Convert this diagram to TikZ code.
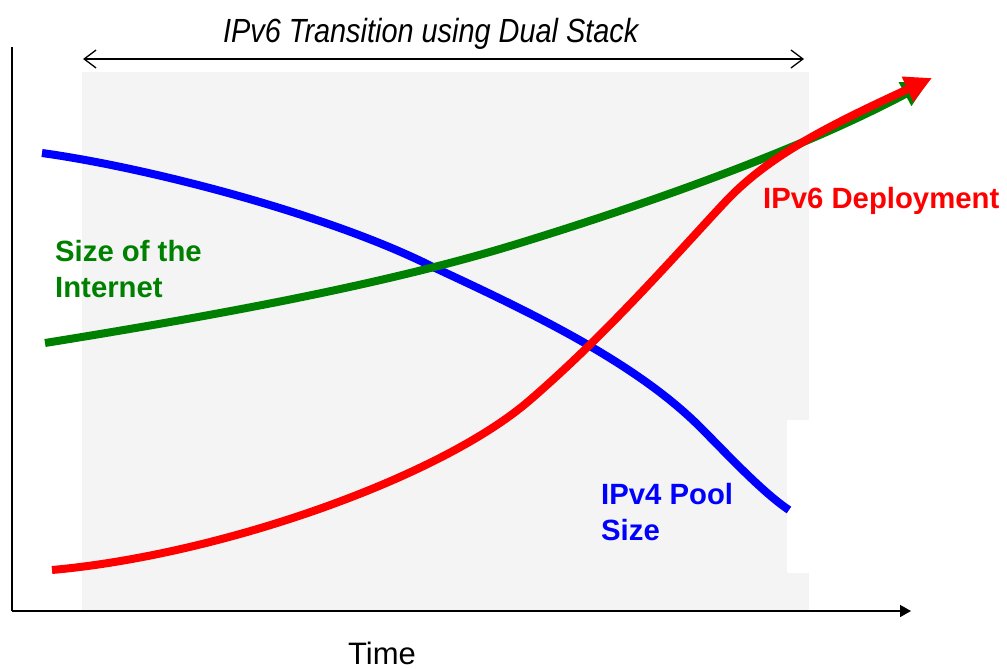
\documentclass[tikz,border=0pt]{standalone}
\usepackage{fontspec}
\usepackage{graphicx}
\setmainfont{Liberation Sans}
\usetikzlibrary{arrows.meta}
\definecolor{bggray}{HTML}{F4F4F4}
\definecolor{curvegreen}{HTML}{008000}
\begin{document}
\begin{tikzpicture}[x=1pt,y=-1pt,
  curve/.style={line width=8pt},
  lbl/.style={inner sep=0pt,anchor=base west,font=\fontsize{29.3}{35.5}\selectfont\bfseries,align=left},
  axis/.style={line width=1.5pt,black}]
\useasboundingbox (0,0) rectangle (1007,669);
% shaded transition band
\fill[bggray] (82,72) rectangle (809,611);
\fill[white] (787,420) rectangle (809,573);
% axes
\coordinate (origin) at (12,611);
\coordinate (ytop) at (12,47);
\coordinate (xend) at (911,611);
\draw[axis] (ytop) -- (origin);
\draw[axis,-{Triangle[length=11pt,width=12pt]}] (origin) -- (xend);
% transition span arrow
\coordinate (spanL) at (83,59);
\coordinate (spanR) at (804,59);
\draw[line width=1.3pt,{Straight Barb[length=12pt,width=18pt]}-{Straight Barb[length=12pt,width=18pt]}] (spanL) -- (spanR);
\node[inner sep=0pt,anchor=base west] (title) at (223,43)
  {\scalebox{0.862}[1]{\fontsize{33.5}{40}\selectfont\itshape IPv6 Transition using Dual Stack}};
% curves
\draw[curve,blue] (42,153) .. controls (150,168) and (330,215) .. (433,267)
  .. controls (530,312) and (635,362) .. (700,427)
  .. controls (726,453) and (762,492) .. (789,510);
\draw[curve,curvegreen,-{Triangle[length=26pt,width=25pt]}] (45,343) .. controls (250,310) and (400,280) .. (520,243)
  .. controls (650,203) and (800,150) .. (928,82);
\draw[curve,red,-{Triangle[length=27pt,width=26pt]}] (52,570) .. controls (220,555) and (440,478) .. (530,400)
  .. controls (610,331) and (680,250) .. (727,200)
  .. controls (770,155) and (830,125) .. (932,78);
% labels
\node[lbl,text=curvegreen] (lgreen) at (55,297) {Size of the\\Internet};
\node[lbl,text=red] (lred) at (763,208) {IPv6 Deployment};
\node[lbl,text=blue] (lblue) at (601,540) {IPv4 Pool\\Size};
\node[inner sep=0pt,anchor=base west,font=\fontsize{31}{36}\selectfont] (time) at (348,664) {Time};
\end{tikzpicture}
\end{document}
